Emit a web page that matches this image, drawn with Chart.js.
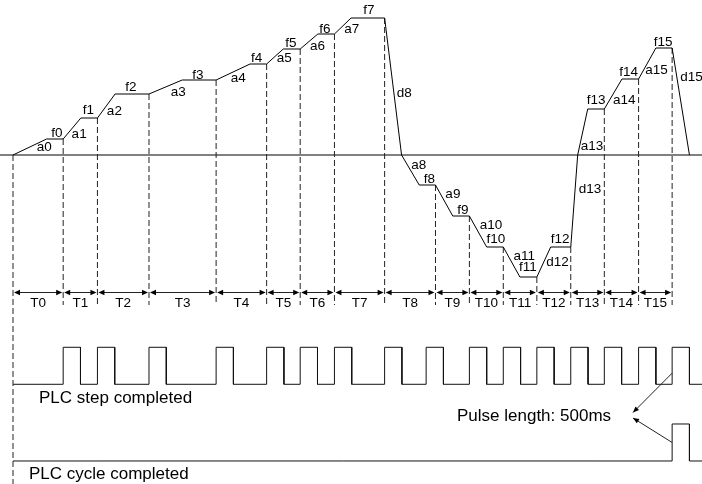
<!DOCTYPE html>
<html>
<head>
<meta charset="utf-8">
<script src="https://cdn.jsdelivr.net/npm/chart.js@4.4.0/dist/chart.umd.min.js"></script>
<style>
  html, body { margin: 0; padding: 0; background: #fff; }
  #chart { display: block; }
</style>
</head>
<body>
<canvas id="chart" width="702" height="484"></canvas>
<script>
// step names and step boundaries (seconds)
const stepNames = ['T0','T1','T2','T3','T4','T5','T6','T7','T8','T9','T10','T11','T12','T13','T14','T15'];
const stepBounds = [0, 1.45, 2.44, 3.93, 5.87, 7.33, 8.30, 9.29, 10.74, 12.21, 13.19, 14.17, 15.14, 16.12, 17.09, 18.08, 19.05];

// speed profile: corner points (time s, speed)
const profileTime = [0, 0.97, 1.45, 1.96, 2.44, 2.95, 3.93, 4.89, 5.87, 6.85, 7.33, 7.81, 8.30, 8.81, 9.29, 9.77,
  10.74, 11.23, 11.74, 12.21, 12.71, 13.19, 13.69, 14.17, 14.65, 15.14, 15.54, 16.12, 16.32, 16.61, 17.09, 17.60,
  18.08, 18.58, 19.05, 19.55];
const profileSpeed = [0, 16, 16, 37, 37, 61, 61, 75, 75, 91, 91, 106, 106, 121, 121, 137,
  137, 0, -30, -30, -61, -61, -92, -92, -122, -122, -92, -92, 0, 46, 46, 76,
  76, 107, 107, 0];

// segment names (ramps a, flats f, decel d)
const segLabels = ['a0','f0','a1','f1','a2','f2','a3','f3','a4','f4','a5','f5','a6','f6','a7','f7',
  'd8','a8','f8','a9','f9','a10','f10','a11','f11','d12','f12','d13','a13','f13','a14','f14','a15','f15','d15'];

// PLC signals
const stepPulseStart = [1.45, 2.44, 3.93, 5.87, 7.33, 8.30, 9.29, 10.74, 11.94, 13.19, 14.17, 15.14, 16.12, 17.09, 18.08, 19.05];
const cyclePulseStart = [19.05];
const pulseLength = 0.5;
const signalNames = ['PLC step completed', 'PLC cycle completed'];
const pulseNote = 'Pulse length: 500ms';

// ---- layout ----
const X_MIN = -0.376, X_MAX = 19.913;
const Y_MIN = -329, Y_MAX = 155;
const DASH_END = -150;
// [profile point, dx, dy] in pixels for each segment label
const segLabelPlace = [
  [1,-2.4,8.4],[2,-6.3,-6],[3,-1.7,16.3],[4,-9,-7.7],[5,-0.7,17.3],[6,-18,-6.4],[7,-4,12.3],[8,-18.3,-5],
  [9,-11.7,14.7],[10,-10,-6],[11,1,9.7],[12,-9.3,-6],[13,-0.4,12],[14,-9.6,-4.7],[15,0.7,11.7],[16,-15.7,-7.3],
  [17,2.6,-61.7],[17,17.3,10],[19,-6,-6],[19,17.4,9],[21,-6.6,-6],[21,21.7,9],[23,-7.3,-7.4],[23,21,9],
  [25,-9,-9.3],[25,20.6,-14.3],[27,-10.7,-7.4],[27,19.3,-57.4],[28,14.3,-9],[30,-8.3,-8.4],[30,20,-8.7],
  [32,-10,-7],[32,18,-8.7],[34,-9,-6],[34,19.4,29.6]
];

const FONT_SMALL = '13.5px "Liberation Sans", Arial, sans-serif';
const FONT_BIG = '17px "Liberation Sans", Arial, sans-serif';

function pulseTrain(starts) {
  const pts = [{x: 0, y: 0}];
  starts.forEach(s => {
    pts.push({x: s, y: 0}, {x: s, y: 1}, {x: s + pulseLength, y: 1}, {x: s + pulseLength, y: 0});
  });
  pts.push({x: X_MAX, y: 0});
  return pts;
}

function guideLines() {
  const pts = [];
  stepBounds.forEach((b, i) => {
    const top = profileSpeed[profileTime.indexOf(b)];
    pts.push({x: b, y: top}, {x: b, y: i === 0 ? Y_MIN : DASH_END}, {x: b, y: null});
  });
  return pts;
}

function arrowHead(ctx, tx, ty, fx, fy, len, half) {
  const a = Math.atan2(ty - fy, tx - fx);
  ctx.beginPath();
  ctx.moveTo(tx, ty);
  ctx.lineTo(tx - len * Math.cos(a) + half * Math.sin(a), ty - len * Math.sin(a) - half * Math.cos(a));
  ctx.lineTo(tx - len * Math.cos(a) - half * Math.sin(a), ty - len * Math.sin(a) + half * Math.cos(a));
  ctx.closePath();
  ctx.fill();
}

const annotate = {
  id: 'annotate',
  afterDatasetsDraw(chart) {
    const {ctx, scales: {x, y, yStep, yCycle}} = chart;
    ctx.save();
    ctx.fillStyle = '#000';
    ctx.strokeStyle = '#222';
    ctx.lineWidth = 1;
    ctx.textAlign = 'center';
    ctx.textBaseline = 'middle';
    ctx.font = FONT_SMALL;

    segLabels.forEach((t, i) => {
      const [p, dx, dy] = segLabelPlace[i];
      ctx.fillText(t, x.getPixelForValue(profileTime[p]) + dx, y.getPixelForValue(profileSpeed[p]) + dy);
    });

    // duration arrows T0..T15
    const rowY = 292.5;
    stepNames.forEach((name, i) => {
      const x0 = x.getPixelForValue(stepBounds[i]) + 1;
      const x1 = x.getPixelForValue(stepBounds[i + 1]) - 1;
      ctx.beginPath();
      ctx.moveTo(x0 + 3, rowY);
      ctx.lineTo(x1 - 3, rowY);
      ctx.stroke();
      arrowHead(ctx, x0, rowY, x1, rowY, 6, 2.8);
      arrowHead(ctx, x1, rowY, x0, rowY, 6, 2.8);
      ctx.fillText(name, (x0 + x1) / 2, 303.5);
    });

    // signal names
    ctx.font = FONT_BIG;
    ctx.textAlign = 'left';
    ctx.fillText(signalNames[0], 39, 398);
    ctx.fillText(signalNames[1], 29, 474);
    ctx.fillText(pulseNote, 457, 416);

    // pointers to the last pulses
    const px = x.getPixelForValue(cyclePulseStart[0]);
    const ends = [[px, yStep.getPixelForValue(0.3), 633, 412.5], [px, yCycle.getPixelForValue(0.5), 633, 418]];
    ends.forEach(([fx, fy, tx, ty]) => {
      ctx.beginPath();
      ctx.moveTo(fx, fy);
      ctx.lineTo(tx, ty);
      ctx.stroke();
      arrowHead(ctx, tx, ty, fx, fy, 6, 2.5);
    });
    ctx.restore();
  }
};

new Chart(document.getElementById('chart'), {
  type: 'line',
  data: {
    datasets: [
      {
        data: profileTime.map((t, i) => ({x: t, y: profileSpeed[i]})),
        borderColor: '#000', borderWidth: 1, pointRadius: 0, tension: 0, yAxisID: 'y'
      },
      {
        data: guideLines(),
        borderColor: '#222', borderWidth: 1, borderDash: [6, 3], pointRadius: 0, spanGaps: false, yAxisID: 'y'
      },
      {
        data: pulseTrain(stepPulseStart),
        borderColor: '#111', borderWidth: 1, pointRadius: 0, yAxisID: 'yStep'
      },
      {
        data: pulseTrain(cyclePulseStart),
        borderColor: '#111', borderWidth: 1, pointRadius: 0, yAxisID: 'yCycle'
      },
      {
        data: [{x: X_MIN, y: 0}, {x: X_MAX, y: 0}],
        borderColor: '#808080', borderWidth: 2, pointRadius: 0, yAxisID: 'y'
      }
    ]
  },
  options: {
    responsive: false,
    animation: false,
    layout: { padding: 0 },
    plugins: { legend: { display: false }, tooltip: { enabled: false } },
    scales: {
      x: { type: 'linear', min: X_MIN, max: X_MAX, display: false },
      y: { min: Y_MIN, max: Y_MAX, display: false },
      yStep: { min: -2.695, max: 10.386, display: false },
      yCycle: { min: -0.622, max: 12.459, display: false }
    }
  },
  plugins: [annotate]
});
</script>
</body>
</html>
